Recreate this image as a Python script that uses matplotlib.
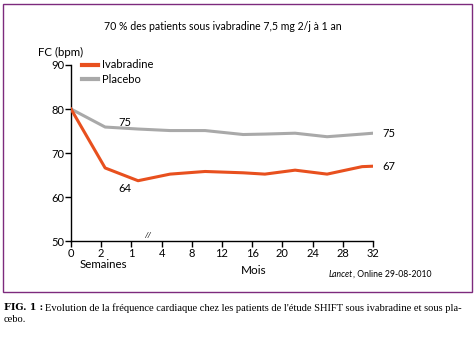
import matplotlib.pyplot as plt
from matplotlib.patches import Rectangle

# position along the (broken) time axis, in tick-spacing units
x_pos = [0, 1.13, 2.22, 3.28, 4.44, 5.7, 6.42, 7.42, 8.48, 9.64, 10]
ivabradine = [80, 66.6, 63.7, 65.2, 65.8, 65.5, 65.2, 66.1, 65.2, 66.9, 67.0]
placebo = [80, 75.9, 75.45, 75.1, 75.1, 74.2, 74.3, 74.5, 73.7, 74.3, 74.5]
tick_labels = ['0', '2', '1', '4', '8', '12', '16', '20', '24', '28', '32']
y_ticks = [50, 60, 70, 80, 90]

orange = '#e8501e'
grey = '#a9a9a9'
purple = '#7d2a7d'

plt.rcParams['font.family'] = ['Lato', 'DejaVu Sans']

fig = plt.figure(figsize=(4.76, 3.44), dpi=100)
W, H = 476, 344

# frame round the chart
fig.patches.append(Rectangle((3 / W, 1 - 292 / H), 469 / W, 288 / H,
                             transform=fig.transFigure, fill=False,
                             edgecolor=purple, linewidth=1.0))

ax = fig.add_axes([71 / W, 1 - 241 / H, (373 - 71) / W, (241 - 65) / H])
ax.plot(x_pos, placebo, color=grey, lw=2.2, zorder=2)
ax.plot(x_pos, ivabradine, color=orange, lw=2.2, zorder=3)

ax.set_xlim(0, 10)
ax.set_ylim(50, 90)
ax.set_xticks(range(len(tick_labels)))
ax.set_xticklabels(tick_labels)
ax.set_yticks(y_ticks)
ax.set_yticklabels([str(v) for v in y_ticks])
for s in ['top', 'right']:
    ax.spines[s].set_visible(False)
for s in ['left', 'bottom']:
    ax.spines[s].set_linewidth(1.0)
ax.tick_params(axis='both', length=4, width=1.0, labelsize=8, pad=1.0)
ax.patch.set_alpha(0)

# axis break mark
ax.text(2.55, 50.5, '//', fontsize=6, ha='center', va='bottom', style='italic')

# point / end labels
ax.text(1.8, 76.9, '75', fontsize=8, ha='center', va='center')
ax.text(1.8, 61.9, '64', fontsize=8, ha='center', va='center')
ax.text(10.3, 74.5, '75', fontsize=8, ha='left', va='center')
ax.text(10.3, 67.0, '67', fontsize=8, ha='left', va='center')

# legend
ax.plot([0.37, 0.88], [90, 90], color=orange, lw=3, clip_on=False)
ax.plot([0.37, 0.88], [86.8, 86.8], color=grey, lw=3, clip_on=False)
ax.text(1.02, 90, 'Ivabradine', fontsize=8, va='center')
ax.text(1.02, 86.8, 'Placebo', fontsize=8, va='center')

fig.text(223 / W, 1 - 27 / H, '70 % des patients sous ivabradine 7,5 mg 2/j à 1 an',
         fontsize=7.6, ha='center', va='center')
fig.text(38 / W, 1 - 52 / H, 'FC (bpm)', fontsize=8.3, ha='left', va='center')
fig.text(103 / W, 1 - 265 / H, 'Semaines', fontsize=8.3, ha='center', va='center')
fig.text(254 / W, 1 - 271 / H, 'Mois', fontsize=8.5, ha='center', va='center')

# source line: italic journal name followed by the date
src = fig.text(329 / W, 1 - 277 / H, 'Lancet', fontsize=6.2, style='italic',
               ha='left', va='baseline')
ax.annotate(', Online 29-08-2010', xy=(1, 0), xycoords=src, fontsize=6.2,
            ha='left', va='bottom', annotation_clip=False)

# figure caption
fig_lbl = fig.text(4 / W, 1 - 308 / H, 'FIG. 1 :', fontsize=6.8, weight='bold',
                   family=['DejaVu Serif'], ha='left', va='center')
ax.annotate("Evolution de la fréquence cardiaque chez les patients de l'étude SHIFT sous ivabradine et sous pla-",
            xy=(1, 0.5), xycoords=fig_lbl, xytext=(1, 0), textcoords='offset points',
            fontsize=7.6, family=['Liberation Serif'], ha='left', va='center',
            annotation_clip=False)
fig.text(4 / W, 1 - 320 / H, 'cebo.', fontsize=7.6, family=['Liberation Serif'],
         ha='left', va='center')

fig.savefig('out.png', dpi=100)
